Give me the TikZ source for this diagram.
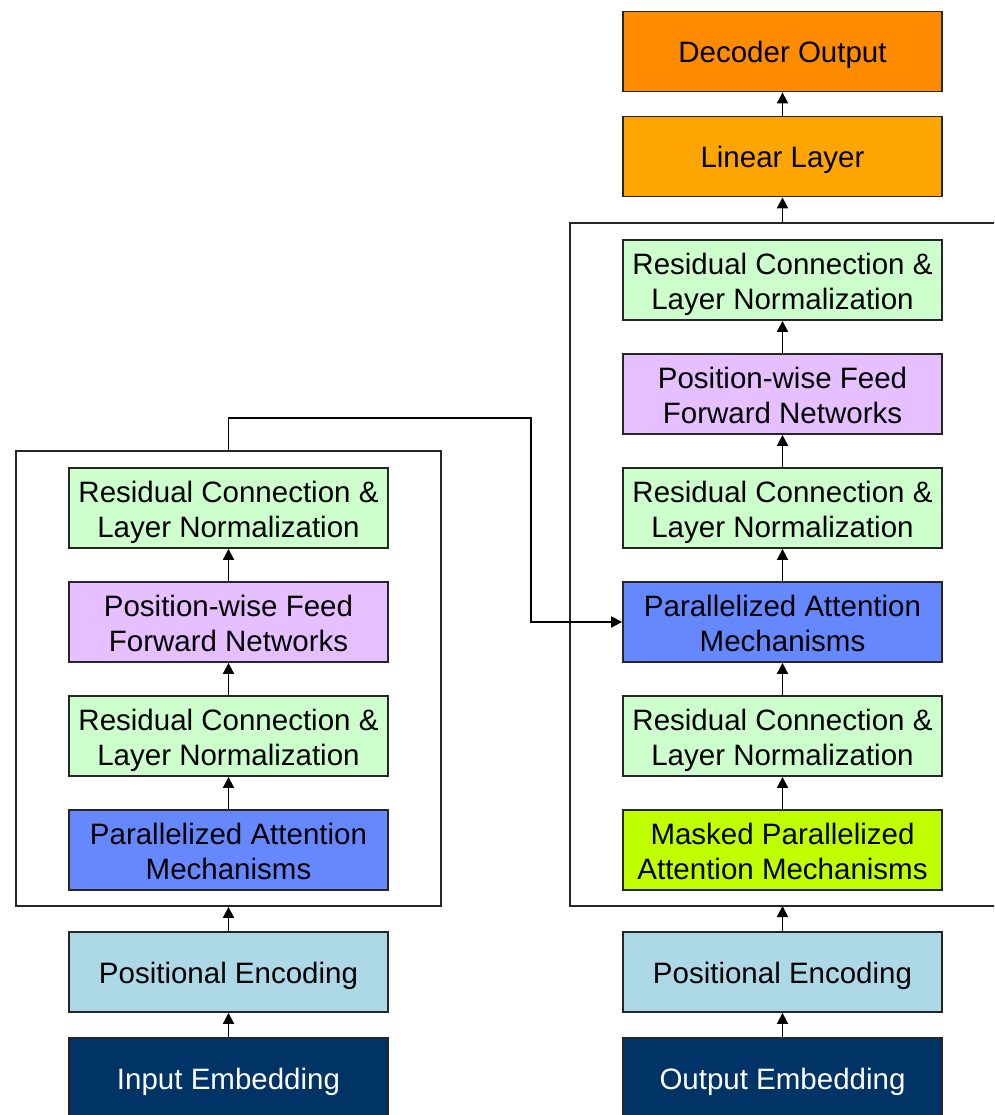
\documentclass[tikz,border=0pt]{standalone}
\usepackage{fontspec}
\setmainfont{Liberation Sans}
\usetikzlibrary{arrows.meta}
\definecolor{cdec}{HTML}{FF8C00}
\definecolor{clin}{HTML}{FFA500}
\definecolor{cres}{HTML}{CCFFCC}
\definecolor{cffn}{HTML}{E5BFFF}
\definecolor{cpa}{HTML}{6688FF}
\definecolor{cmask}{HTML}{BFFF00}
\definecolor{cpe}{HTML}{ADD8E6}
\definecolor{cemb}{HTML}{003366}
\newcommand{\tx}[1]{\raisebox{-4.5pt}[\height][\depth]{\begin{tabular}{@{}c@{}}#1\end{tabular}}}
\tikzset{
  blk/.style={draw=black!85, line width=1.8pt, minimum width=319pt, minimum height=80pt,
    inner sep=0pt, font=\fontsize{29.5}{35}\selectfont},
  cont/.style={draw=black!85, line width=1.8pt, inner sep=0pt},
  arr/.style={draw=black, line width=1.8pt, -{Triangle[length=11pt,width=11pt]}},
}
\begin{document}
\begin{tikzpicture}[x=1pt,y=-1pt]
\useasboundingbox (0,0) rectangle (994,1115);
\clip (0,0) rectangle (994,1115);
% containers
\node[cont, minimum width=425pt, minimum height=455pt] (lcont) at (228.5,678.5) {};
\node[cont, minimum width=440pt, minimum height=683pt] (rcont) at (790,564.5) {};
% left column
\node[blk, fill=cemb, text=white] (lemb) at (228.5,1078) {\tx{Input Embedding}};
\node[blk, fill=cpe] (lpe) at (228.5,972) {\tx{Positional Encoding}};
\node[blk, fill=cpa] (lpa) at (228.5,850) {\tx{Parallelized Attention\\Mechanisms}};
\node[blk, fill=cres] (lres1) at (228.5,736) {\tx{Residual Connection \&\\Layer Normalization}};
\node[blk, fill=cffn] (lffn) at (228.5,622) {\tx{Position-wise Feed\\Forward Networks}};
\node[blk, fill=cres] (lres2) at (228.5,508) {\tx{Residual Connection \&\\Layer Normalization}};
% right column
\node[blk, fill=cemb, text=white] (remb) at (782.5,1078) {\tx{Output Embedding}};
\node[blk, fill=cpe] (rpe) at (782.5,972) {\tx{Positional Encoding}};
\node[blk, fill=cmask] (rmask) at (782.5,850) {\tx{Masked Parallelized\\Attention Mechanisms}};
\node[blk, fill=cres] (rres1) at (782.5,736) {\tx{Residual Connection \&\\Layer Normalization}};
\node[blk, fill=cpa] (rpa) at (782.5,622) {\tx{Parallelized Attention\\Mechanisms}};
\node[blk, fill=cres] (rres2) at (782.5,508) {\tx{Residual Connection \&\\Layer Normalization}};
\node[blk, fill=cffn] (rffn) at (782.5,394) {\tx{Position-wise Feed\\Forward Networks}};
\node[blk, fill=cres] (rres3) at (782.5,280) {\tx{Residual Connection \&\\Layer Normalization}};
\node[blk, fill=clin] (rlin) at (782.5,156.5) {\tx{Linear Layer}};
\node[blk, fill=cdec] (rdec) at (782.5,51.5) {\tx{Decoder Output}};
% left arrows
\draw[arr] (lemb.north) -- (lpe.south);
\draw[arr] (lpe.north) -- (lcont.south);
\draw[arr] (lpa.north) -- (lres1.south);
\draw[arr] (lres1.north) -- (lffn.south);
\draw[arr] (lffn.north) -- (lres2.south);
% right arrows
\coordinate (rbot) at (782.5,906);
\coordinate (rtop) at (782.5,223);
\draw[arr] (remb.north) -- (rpe.south);
\draw[arr] (rpe.north) -- (rbot);
\draw[arr] (rmask.north) -- (rres1.south);
\draw[arr] (rres1.north) -- (rpa.south);
\draw[arr] (rpa.north) -- (rres2.south);
\draw[arr] (rres2.north) -- (rffn.south);
\draw[arr] (rffn.north) -- (rres3.south);
\draw[arr] (rtop) -- (rlin.south);
\draw[arr] (rlin.north) -- (rdec.south);
% cross connector
\coordinate (k1) at (531,418);
\draw[arr] (lcont.north) |- (k1) |- (rpa.west);
\end{tikzpicture}
\end{document}
